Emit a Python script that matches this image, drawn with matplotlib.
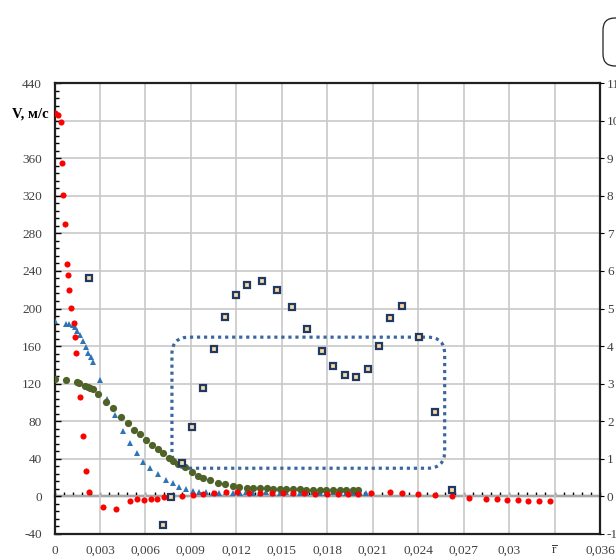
import matplotlib
matplotlib.use("Agg")
import matplotlib.pyplot as plt
from matplotlib.patches import FancyBboxPatch
from matplotlib.transforms import blended_transform_factory, IdentityTransform
from matplotlib.ticker import MultipleLocator

plt.rcParams['font.family'] = ['Liberation Serif', 'DejaVu Serif']
plt.rcParams['mathtext.fontset'] = 'custom'
plt.rcParams['mathtext.rm'] = 'Liberation Serif'

# ---------------- data ----------------
red_x = [0.0, 0.00023, 0.00043, 0.00049, 0.00056, 0.00069, 0.00082, 0.00089, 0.00096, 0.00109,
         0.00129, 0.00135, 0.00142, 0.00168, 0.00188, 0.00208, 0.00227, 0.00320, 0.00405, 0.00498,
         0.00544, 0.00590, 0.00636, 0.00676, 0.00722, 0.00768, 0.00841, 0.00913, 0.00979, 0.01052,
         0.01131, 0.01203, 0.01282, 0.01355, 0.01434, 0.01507, 0.01573, 0.01645, 0.01717, 0.01797,
         0.01869, 0.01935, 0.02001, 0.02087, 0.02212, 0.02291, 0.02397, 0.02509, 0.02621, 0.02733,
         0.02845, 0.02918, 0.02984, 0.03056, 0.03122, 0.03195, 0.03267]
red_y = [408, 406, 398, 355, 321, 290, 247, 236, 220, 201,
         185, 170, 153, 106, 64, 27, 5, -11, -13, -5,
         -3, -4, -3, -3, -1, 0, 0, 1, 3, 4,
         5, 5, 4, 4, 4, 4, 4, 4, 3, 3,
         3, 3, 3, 4, 5, 4, 3, 2, 0, -2,
         -3, -3, -4, -4, -5, -5, -5]

blue_x = [0.0, 0.00076, 0.00096, 0.00122, 0.00135, 0.00148, 0.00168, 0.00188, 0.00208, 0.00221,
          0.00241, 0.00254, 0.00300, 0.00346, 0.00399, 0.00452, 0.00498, 0.00544, 0.00583, 0.00630,
          0.00682, 0.00735, 0.00781, 0.00821, 0.00867, 0.00913, 0.00953, 0.00999, 0.01045, 0.01085,
          0.01131, 0.01177, 0.01223, 0.01263, 0.01309, 0.01355, 0.01395, 0.01441, 0.01487, 0.01526,
          0.01573, 0.01619, 0.01658, 0.01704, 0.01750, 0.01790, 0.01836, 0.01882, 0.01922, 0.01968,
          0.02014, 0.02054]
blue_y = [187, 184, 184, 182, 180, 176, 172, 165, 159, 153,
          148, 143, 124, 104, 87, 70, 57, 46, 37, 30,
          24, 18, 14, 10, 8, 6, 5, 5, 4, 4,
          5, 4, 4, 5, 4, 4, 5, 4, 4, 5,
          4, 4, 4, 5, 4, 4, 5, 4, 4, 4,
          4, 4]

green_x = [0.0, 0.00076, 0.00148, 0.00161, 0.00201, 0.00221, 0.00234, 0.00254, 0.00287, 0.00340,
           0.00386, 0.00438, 0.00485, 0.00524, 0.00564, 0.00603, 0.00643, 0.00682, 0.00715, 0.00755,
           0.00781, 0.00814, 0.00860, 0.00907, 0.00946, 0.00979, 0.01025, 0.01078, 0.01124, 0.01177,
           0.01217, 0.01269, 0.01309, 0.01355, 0.01401, 0.01441, 0.01487, 0.01526, 0.01573, 0.01619,
           0.01658, 0.01704, 0.01750, 0.01790, 0.01836, 0.01882, 0.01922, 0.01968, 0.02002]
green_y = [125, 124, 122, 121, 118, 116, 115, 114, 109, 101,
           94, 85, 78, 71, 66, 60, 55, 50, 46, 41,
           38, 35, 31, 26, 22, 20, 17, 14, 13, 11,
           10, 9, 9, 9, 9, 8, 8, 8, 8, 8,
           7, 7, 7, 7, 7, 7, 7, 7, 7]

sq_x = [0.00227, 0.00715, 0.00768, 0.00841, 0.00907, 0.00979, 0.01052, 0.01124, 0.01197, 0.01269,
        0.01368, 0.01467, 0.01566, 0.01665, 0.01764, 0.01836, 0.01915, 0.01988, 0.02067, 0.02140,
        0.02212, 0.02291, 0.02403, 0.02509, 0.02621]
sq_y = [232, -30, -1, 36, 74, 115, 157, 191, 214, 225,
        229, 220, 202, 178, 155, 139, 129, 127, 136, 160,
        190, 203, 170, 90, 7]

# dotted rounded frame (data extents)
frame_x = [0.00775, 0.02575]
frame_y = [30, 169.5]

x_ticks = [0, 0.003, 0.006, 0.009, 0.012, 0.015, 0.018, 0.021, 0.024, 0.027, 0.03, 0.033, 0.036]
x_labels = ["0", "0,003", "0,006", "0,009", "0,012", "0,015", "0,018", "0,021", "0,024",
            "0,027", "0,03", r"$\overline{\mathrm{r}}$", "0,036"]
y_ticks = [-40, 0, 40, 80, 120, 160, 200, 240, 280, 320, 360, 400, 440]
y_labels = ["-40", "0", "40", "80", "120", "160", "200", "240", "280", "320", "360", "", "440"]
y2_ticks = [-1, 0, 1, 2, 3, 4, 5, 6, 7, 8, 9, 10, 11]
y_title = "V, м/с"

# ---------------- figure ----------------
DPI = 100
fig = plt.figure(figsize=(6.16, 5.6), dpi=DPI)
ax = fig.add_axes([54.5 / 616, 1 - 534 / 560, 545.5 / 616, 451 / 560])
xlim = (0, 0.036)
ylim = (-40, 440)
ax.set_xlim(*xlim)
ax.set_ylim(*ylim)

ax.grid(True, which='major', color='#c8c8c8', linewidth=1.2)
ax.set_axisbelow(True)

ax.set_xticks(x_ticks)
ax.set_xticklabels(x_labels, fontsize=9.5, color='#404040')
ax.set_yticks(y_ticks)
ax.set_yticklabels(y_labels, fontsize=9.5, color='#404040')
ax.yaxis.set_minor_locator(MultipleLocator(8))
ax.tick_params(axis='x', which='both', length=0, pad=8)
ax.tick_params(axis='y', which='major', direction='in', length=4, width=1, pad=9, color='black')
ax.tick_params(axis='y', which='minor', direction='in', length=3, width=1, color='black')
for s in ax.spines.values():
    s.set_linewidth(1.6)
    s.set_color('#202020')

# axis line at zero with minor ticks
zero_frac = (0 - ylim[0]) / (ylim[1] - ylim[0])
sec = ax.secondary_xaxis(zero_frac)
sec.set_xticks(x_ticks)
sec.xaxis.set_minor_locator(MultipleLocator(0.0006))
sec.tick_params(which='both', direction='in', length=3, width=1, labelbottom=False, color='black')
sec.spines['bottom'].set_linewidth(1.6)
sec.spines['bottom'].set_color('black')

# right axis
ax2 = ax.twinx()
ax2.set_ylim(ylim[0] / 40, ylim[1] / 40)
ax2.set_yticks(y2_ticks)
ax2.set_yticklabels([str(v) for v in y2_ticks], fontsize=9.5, color='#404040')
ax2.tick_params(axis='y', direction='out', length=3, pad=2)
for s in ax2.spines.values():
    s.set_visible(False)

# dotted rounded frame
fig.canvas.draw()
bb = ax.get_window_extent()
ppx = bb.width / (xlim[1] - xlim[0])
ppy = bb.height / (ylim[1] - ylim[0])
frame = FancyBboxPatch((frame_x[0], frame_y[0]), frame_x[1] - frame_x[0], frame_y[1] - frame_y[0],
                       boxstyle="round,pad=0,rounding_size=%g" % (17 / ppx),
                       mutation_aspect=ppx / ppy,
                       fill=False, edgecolor='#3a689e', linewidth=2.3,
                       linestyle=(0, (1, 1.2)), zorder=3)
ax.add_patch(frame)

# series
ax.plot(blue_x, blue_y, linestyle='none', marker='^', markersize=5, color='#2e75b6',
        markeredgewidth=0, zorder=4)
ax.plot(green_x, green_y, linestyle='none', marker='o', markersize=5.2, color='#4f6228',
        markeredgewidth=0, zorder=5)
ax.plot(red_x, red_y, linestyle='none', marker='o', markersize=4.4, color='#ff0000',
        markeredgewidth=0, zorder=6)
ax.plot(sq_x, sq_y, linestyle='none', marker='s', markersize=4.3, markerfacecolor='#fcd9a0',
        markeredgecolor='#1f3864', markeredgewidth=1.6, zorder=7)

# y title in place of 400 label
trans = blended_transform_factory(ax.transAxes, ax.transData)
ax.text(-0.010, 407, y_title, transform=trans, ha='right', va='center',
        fontsize=10.5, fontweight='bold', color='black')

# partially visible legend box at top right
legend_box = FancyBboxPatch((603, 560 - 66), 60, 48, boxstyle="round,pad=0,rounding_size=12",
                            transform=IdentityTransform(), fill=False, edgecolor='#202020',
                            linewidth=0.9)
fig.add_artist(legend_box)

fig.savefig("out.png", dpi=DPI, facecolor='white')
